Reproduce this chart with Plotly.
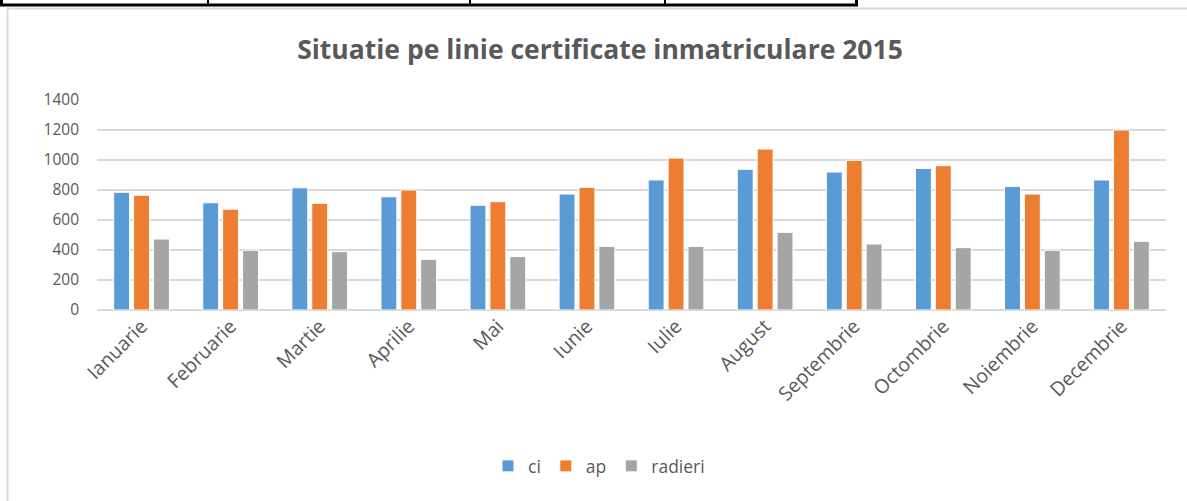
import plotly.graph_objects as go

months = ["Ianuarie", "Februarie", "Martie", "Aprilie", "Mai", "Iunie", "Iulie",
          "August", "Septembrie", "Octombrie", "Noiembrie", "Decembrie"]
ci = [785, 715, 815, 755, 698, 773, 867, 938, 920, 944, 824, 867]
ap = [765, 672, 711, 800, 722, 818, 1013, 1073, 998, 962, 773, 1200]
radieri = [473, 398, 389, 338, 356, 424, 424, 518, 440, 416, 398, 458]
series_names = ["ci", "ap", "radieri"]
colors = ["#5B9BD5", "#ED7D31", "#A5A5A5"]
y_ticks = [0, 200, 400, 600, 800, 1000, 1200, 1400]

W, H = 1187, 501
L, R, T, B = 97, 21, 100, 191
PW, PH = W - L - R, H - T - B

def px(x):
    return (x - L) / PW

def py(y):
    return (H - B - y) / PH

FONT = "Open Sans"
TXT = "#595959"

fig = go.Figure()
for name, vals, col in zip(series_names, [ci, ap, radieri], colors):
    fig.add_trace(go.Bar(x=months, y=vals, name=name,
                         marker=dict(color=col, line=dict(color="white", width=1))))

shapes = []
# chart frame (light gray)
shapes.append(dict(type="line", xref="paper", yref="paper", x0=px(7.5), x1=px(1190),
                   y0=py(8.5), y1=py(8.5), line=dict(color="#D9D9D9", width=2), layer="below"))
shapes.append(dict(type="line", xref="paper", yref="paper", x0=px(7.5), x1=px(7.5),
                   y0=py(8.5), y1=py(505), line=dict(color="#D9D9D9", width=2), layer="below"))
# table border at top (black)
shapes.append(dict(type="rect", xref="paper", yref="paper", x0=px(0), x1=px(858),
                   y0=py(3.5), y1=py(6.5), fillcolor="black", line=dict(width=0)))
for xv, wv in [(1.5, 3), (208, 2), (470, 2), (665, 2), (856.5, 3)]:
    shapes.append(dict(type="line", xref="paper", yref="paper", x0=px(xv), x1=px(xv),
                       y0=py(-1), y1=py(6), line=dict(color="black", width=wv)))

fig.update_layout(
    width=W, height=H,
    margin=dict(l=L, r=R, t=T, b=B),
    paper_bgcolor="white", plot_bgcolor="white",
    font=dict(family=FONT, color=TXT, size=15),
    title=dict(text="<b>Situatie pe linie certificate inmatriculare 2015</b>",
               xref="container", x=600 / W, xanchor="center", y=1 - 50 / H, yanchor="middle",
               font=dict(family=FONT, size=26.5, color=TXT)),
    barmode="group", bargap=0.33, bargroupgap=0.2,
    showlegend=True,
    legend=dict(orientation="h", x=px(599), xanchor="center", y=py(466), yanchor="middle",
                font=dict(family=FONT, size=17.5, color=TXT), itemwidth=30,
                traceorder="normal"),
    shapes=shapes,
    xaxis=dict(tickangle=-45, showgrid=False, showline=False, ticks="",
               tickfont=dict(family=FONT, size=19.5, color=TXT)),
    yaxis=dict(range=[0, 1400], tickvals=y_ticks, showgrid=True, gridcolor="#D9D9D9",
               gridwidth=2, zeroline=True, zerolinecolor="#D9D9D9", zerolinewidth=2,
               showline=False, ticks="", ticklabelstandoff=17,
               tickfont=dict(family=FONT, size=15.5, color=TXT)),
)

fig.write_html("out.html", config={"displayModeBar": False},
               post_script="document.body.style.margin='0';")
